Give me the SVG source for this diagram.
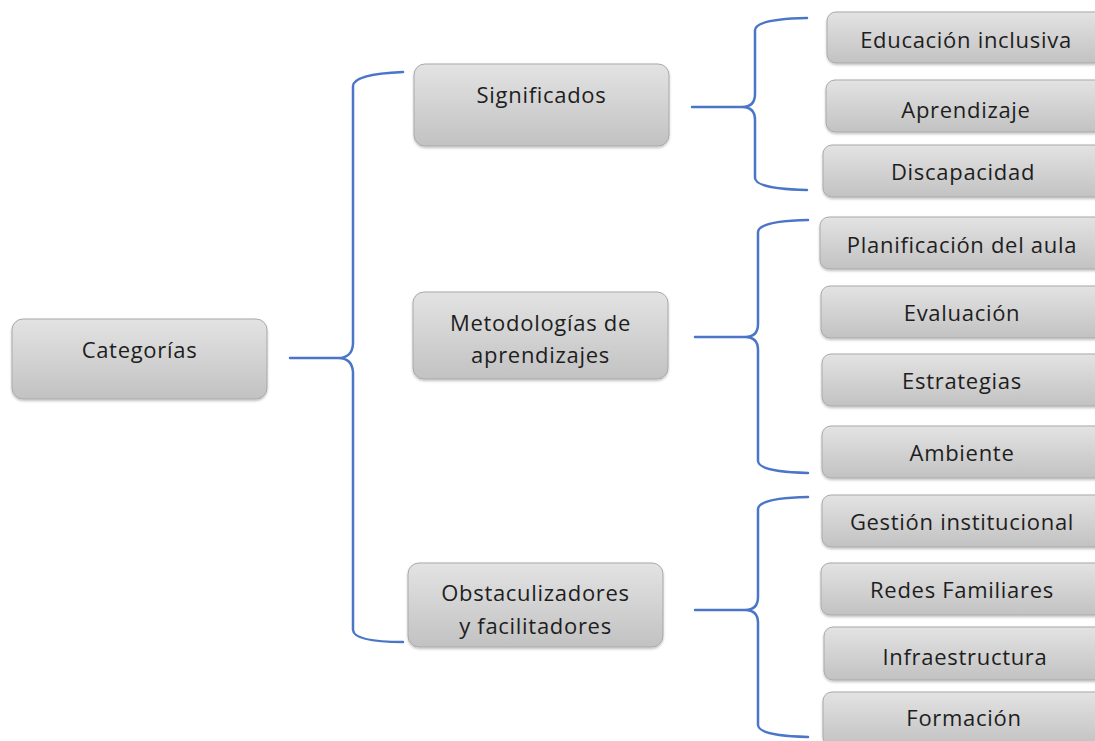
<svg xmlns="http://www.w3.org/2000/svg" width="1095" height="741" viewBox="0 0 1095 741">
<defs>
<linearGradient id="g" x1="0" y1="0" x2="0" y2="1">
<stop offset="0" stop-color="#e3e3e3"/>
<stop offset="1" stop-color="#c2c2c2"/>
</linearGradient>
<filter id="sh" x="-10%" y="-10%" width="120%" height="130%">
<feDropShadow dx="0" dy="1.5" stdDeviation="1.2" flood-color="#000" flood-opacity="0.25"/>
</filter>
</defs>
<style>
.box{fill:url(#g);stroke:#a9a9a9;stroke-width:1;filter:url(#sh)}
.t{font-family:"Open Sans","Liberation Sans",sans-serif;font-size:22px;letter-spacing:0.7px;fill:#1e1e1e;text-anchor:middle}
.br{fill:none;stroke:#4a75c8;stroke-width:2.5;stroke-linecap:round;stroke-linejoin:round}
</style>
<rect width="1095" height="741" fill="#ffffff"/>
<g id="connectors">
<path class="br" d="M290 358 L338 358 Q352 358 353 344 L353 86 Q354 74 403 72 M338 358 Q352 358 353 372 L353 630 Q354 642 403 642"/>
<path class="br" d="M692 107 L742 107 Q755 107 755 94 L755 30 Q756 19 807 18 M742 107 Q755 107 755 120 L755 178 Q756 189 807 190"/>
<path class="br" d="M695 337 L745 337 Q758 337 758 324 L758 232 Q759 221 808 220 M745 337 Q758 337 758 350 L758 461 Q759 472 808 473"/>
<path class="br" d="M695 610 L745 610 Q758 610 758 597 L758 509 Q759 498 808 497 M745 610 Q758 610 758 623 L758 725 Q759 736 808 737"/>
</g>
<g id="n-categorias"><rect class="box" x="12" y="319" width="255" height="80" rx="11"/><text class="t" x="139.5" y="358">Categorías</text></g>
<g id="n-significados"><rect class="box" x="414" y="64" width="255" height="82" rx="11"/><text class="t" x="541.5" y="103">Significados</text></g>
<g id="n-metodologias"><rect class="box" x="413" y="292" width="255" height="87" rx="11"/><text class="t" x="540.5" y="331">Metodologías de</text><text class="t" x="540.5" y="363">aprendizajes</text></g>
<g id="n-obstaculizadores"><rect class="box" x="408" y="563" width="255" height="84" rx="11"/><text class="t" x="535.5" y="601">Obstaculizadores</text><text class="t" x="535.5" y="634">y facilitadores</text></g>
<g id="n-educacion"><rect class="box" x="827" y="12" width="286" height="51" rx="9"/><text class="t" x="966" y="48">Educación inclusiva</text></g>
<g id="n-aprendizaje"><rect class="box" x="826" y="80" width="286" height="52" rx="9"/><text class="t" x="966" y="118">Aprendizaje</text></g>
<g id="n-discapacidad"><rect class="box" x="823" y="145" width="286" height="52" rx="9"/><text class="t" x="963" y="180">Discapacidad</text></g>
<g id="n-planificacion"><rect class="box" x="820" y="217" width="286" height="52" rx="9"/><text class="t" x="962" y="253">Planificación del aula</text></g>
<g id="n-evaluacion"><rect class="box" x="821" y="286" width="286" height="52" rx="9"/><text class="t" x="962" y="321">Evaluación</text></g>
<g id="n-estrategias"><rect class="box" x="822" y="354" width="286" height="52" rx="9"/><text class="t" x="962" y="389">Estrategias</text></g>
<g id="n-ambiente"><rect class="box" x="822" y="426" width="286" height="52" rx="9"/><text class="t" x="962" y="461">Ambiente</text></g>
<g id="n-gestion"><rect class="box" x="822" y="495" width="286" height="52" rx="9"/><text class="t" x="962" y="530">Gestión institucional</text></g>
<g id="n-redes"><rect class="box" x="821" y="563" width="286" height="52" rx="9"/><text class="t" x="962" y="598">Redes Familiares</text></g>
<g id="n-infraestructura"><rect class="box" x="824" y="627" width="286" height="53" rx="9"/><text class="t" x="965" y="665">Infraestructura</text></g>
<g id="n-formacion"><rect class="box" x="823" y="692" width="286" height="54" rx="9"/><text class="t" x="964" y="726">Formación</text></g>
</svg>
